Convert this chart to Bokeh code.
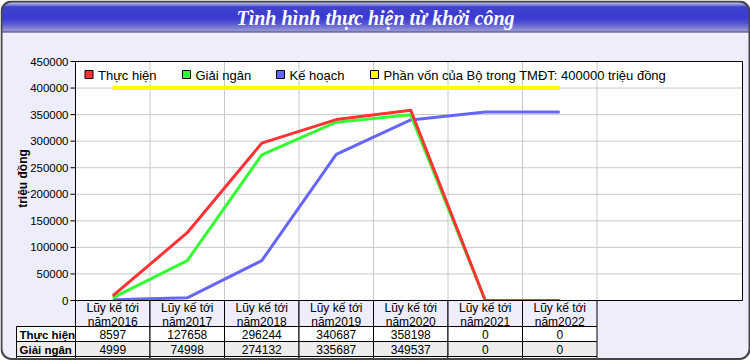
import math
import numpy as np
from bokeh.plotting import figure
from bokeh.models import Range1d
from bokeh.core.properties import value
from bokeh.embed import file_html
from bokeh.resources import INLINE

# ---------------- data ----------------
title = "Tình hình thực hiện từ khởi công"
y_axis_label = "triệu đồng"
years = ["2016", "2017", "2018", "2019", "2020", "2021", "2022"]
categories = ["Lũy kế tới\nnăm" + y for y in years]
series_names = ["Thực hiện", "Giải ngân", "Kế hoạch"]
thuc_hien = [8597, 127658, 296244, 340687, 358198, 0, 0]
giai_ngan = [4999, 74998, 274132, 335687, 349537, 0, 0]
ke_hoach = [1500, 5000, 75000, 275000, 340000, 355000, 355000]
von_label = "Phần vốn của Bộ trong TMĐT: 400000 triệu đồng"
von_value = 400000
y_ticks = [0, 50000, 100000, 150000, 200000, 250000, 300000, 350000, 400000, 450000]

# ---------------- layout / style ----------------
W, H = 750, 360
PL, PR, PT, PB = 75, 742, 61, 300
SLOT = 74.5
VMAX = 450000
PANEL = "#ededfb"
FONT = "Liberation Sans"
colors = ["#ff3333", "#33ff33", "#6666ff"]
yellow = "#ffff00"

per_px = VMAX / (PB - PT)
p = figure(width=W, height=H, x_range=Range1d(0, W), y_range=Range1d(H, 0),
           min_border=0, toolbar_location=None, output_backend="svg",
           x_axis_location=None, y_axis_location=None, outline_line_color=None,
           background_fill_color="white", border_fill_color="white")
p.grid.grid_line_color = None
p.extra_x_ranges = {"cx": Range1d(-0.5 - PL / SLOT, -0.5 + (W - PL) / SLOT)}
p.extra_y_ranges = {"vy": Range1d(-(H - PB) * per_px, PB * per_px)}
right_cx = -0.5 + (PR - PL) / SLOT
n = len(categories)

# panel background
p.quad(left=1, right=749, top=1, bottom=358.5, fill_color=PANEL, line_color=None, border_radius=10)

# title bar gradient stripes
keys = [(1, (150, 150, 225)), (2, (165, 165, 235)), (4, (100, 100, 218)), (6, (10, 10, 190)),
        (17, (0, 0, 196)), (22, (30, 30, 200)), (29, (112, 112, 200)), (30, (120, 120, 200))]
ky = [k[0] for k in keys]
sl, sr, st, sb, sc = [], [], [], [], []
for yy in range(1, 31):
    rgb = [int(np.interp(yy, ky, [k[1][c] for k in keys])) for c in range(3)]
    inset = 0.0
    if yy < 11:
        dy = 10 - (yy - 1 + 0.5)
        inset = 10 - math.sqrt(max(0.0, 100 - dy * dy))
    sl.append(1 + inset); sr.append(749 - inset); st.append(yy); sb.append(yy + 1)
    sc.append("#%02x%02x%02x" % tuple(rgb))
p.quad(left=sl, right=sr, top=st, bottom=sb, fill_color=sc, line_color=None)
p.segment(x0=[1], x1=[749], y0=[31.5], y1=[31.5], line_color="#303070", line_width=1)
p.text(x=[375], y=[17], text=[title], text_font=value("Liberation Serif"), text_font_size="20px",
       text_font_style="bold italic", text_color="white", text_align="center", text_baseline="middle")

# plot area
p.quad(left=PL, right=PR, top=PT, bottom=PB, fill_color="white", line_color=None)
# horizontal grid
gy = [t for t in y_ticks if 0 < t < VMAX]
p.segment(x0=[-0.5] * len(gy), x1=[right_cx] * len(gy), y0=gy, y1=gy,
          x_range_name="cx", y_range_name="vy", line_color="#c8c8c8", line_width=1)
# vertical grid
gx = [k - 0.5 for k in range(1, n + 1)]
p.segment(x0=gx, x1=gx, y0=[0] * len(gx), y1=[VMAX] * len(gx),
          x_range_name="cx", y_range_name="vy", line_color="#c8c8c8", line_width=1)

# reference (yellow) line
p.line(x=[0, n - 1], y=[von_value, von_value], x_range_name="cx", y_range_name="vy",
       line_color=yellow, line_width=4)
# series
xs = list(range(n))
for vals, col in [(ke_hoach, colors[2]), (giai_ngan, colors[1]), (thuc_hien, colors[0])]:
    p.line(x=xs, y=vals, x_range_name="cx", y_range_name="vy", line_color=col,
           line_width=3, line_join="round")

# plot border
p.quad(left=PL, right=PR, top=PT, bottom=PB, fill_color=None, line_color="black", line_width=1)

# y ticks and labels
p.segment(x0=[70] * len(y_ticks), x1=[PL] * len(y_ticks), y0=y_ticks, y1=y_ticks,
          y_range_name="vy", line_color="black", line_width=1)
p.text(x=[68] * len(y_ticks), y=y_ticks, text=[str(t) for t in y_ticks], y_range_name="vy",
       text_font=value(FONT), text_font_size="11.5px", text_align="right", text_baseline="middle",
       text_color="black")
p.text(x=[22], y=[178], text=[y_axis_label], angle=math.pi / 2, text_font=value(FONT),
       text_font_size="12px", text_font_style="bold", text_align="center", text_baseline="middle")

# legend
leg_names = series_names[:2] + [series_names[2], von_label]
leg_cols = colors + [yellow]
leg_sq = [88.5, 186, 280, 374]
p.rect(x=leg_sq, y=[74] * 4, width=8, height=8, fill_color=leg_cols, line_color="black", line_width=1)
p.text(x=[v + 9 for v in leg_sq], y=[74.5] * 4, text=leg_names, text_font=value(FONT),
       text_font_size="13px", text_align="left", text_baseline="middle", text_color="black")

# ---------------- data table ----------------
row_tops = [326, 341, 356]
row_fill = ["white", "#ececec", "white"]
rows = [thuc_hien, giai_ngan, ke_hoach]
cl = [i - 0.5 for i in xs]
cr = [i + 0.5 for i in xs]
# header
p.quad(left=cl, right=cr, top=[PB] * n, bottom=[326] * n, x_range_name="cx",
       fill_color=PANEL, line_color="black", line_width=1)
p.text(x=xs, y=[314] * n, text=categories, x_range_name="cx", text_font=value(FONT),
       text_font_size="12px", text_align="center", text_baseline="middle",
       text_line_height=1.0, text_color="black")
for r, (top, fill, vals, name) in enumerate(zip(row_tops, row_fill, rows, series_names)):
    bot = top + 15
    p.quad(left=[16], right=[PL], top=[top], bottom=[bot], fill_color=fill, line_color="black", line_width=1)
    p.quad(left=cl, right=cr, top=[top] * n, bottom=[bot] * n, x_range_name="cx",
           fill_color=fill, line_color="black", line_width=1)
    if top + 15 > H:
        continue  # this row's texts fall below the visible page, as in the reference
    p.text(x=[19], y=[top + 8], text=[name], text_font=value(FONT), text_font_size="11.5px",
           text_font_style="bold", text_align="left", text_baseline="middle", text_color="black")
    p.text(x=xs, y=[top + 8] * n, text=[str(v) for v in vals], x_range_name="cx",
           text_font=value(FONT), text_font_size="12px", text_align="center",
           text_baseline="middle", text_color="black")

# clip area below panel, then panel border
p.quad(left=0, right=W, top=359.5, bottom=H + 20, fill_color="white", line_color=None)
p.quad(left=1, right=749, top=1, bottom=358.5, fill_color=None, line_color="#454545",
       line_width=2, border_radius=10)

open("out.html", "w").write(file_html(p, INLINE))
